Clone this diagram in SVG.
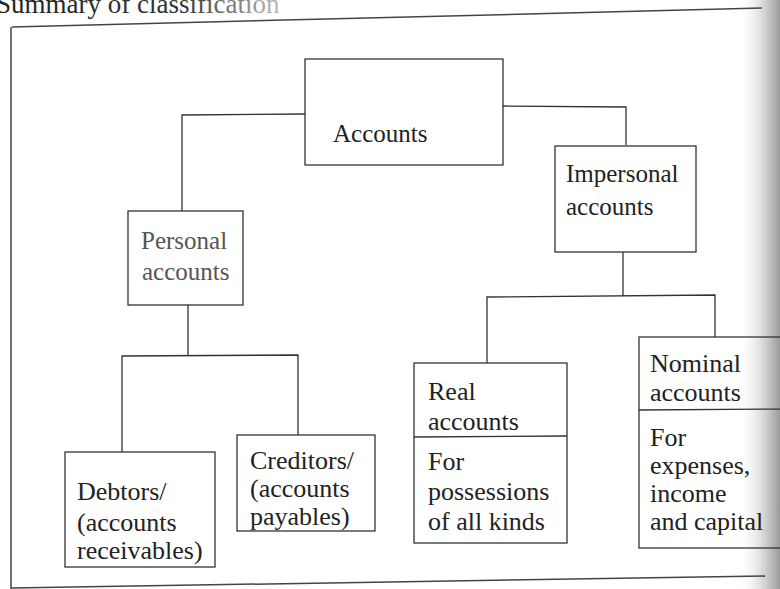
<svg xmlns="http://www.w3.org/2000/svg" width="780" height="589" viewBox="0 0 780 589">
  <defs>
    <linearGradient id="shadow" x1="0" y1="0" x2="1" y2="0">
      <stop offset="0" stop-color="#ffffff" stop-opacity="0"/>
      <stop offset="0.5" stop-color="#dcdcdc" stop-opacity="0.8"/>
      <stop offset="1" stop-color="#9a9a9a"/>
    </linearGradient>
    <linearGradient id="fade" x1="0" y1="0" x2="1" y2="0">
      <stop offset="0" stop-color="#222"/>
      <stop offset="0.65" stop-color="#333"/>
      <stop offset="1" stop-color="#bbb"/>
    </linearGradient>
    <style>
      .box { fill: #fff; stroke: #333; stroke-width: 1.3; }
      .line { fill: none; stroke: #333; stroke-width: 1.3; }
      .frame { fill: none; stroke: #444; stroke-width: 1.5; }
      .t { font-family: "Liberation Serif", "Times New Roman", serif; font-size: 25px; fill: #222; }
      .tl { font-family: "Liberation Serif", "Times New Roman", serif; font-size: 26px; fill: #222; }
    </style>
  </defs>
  <rect width="780" height="589" fill="#fff"/>
  <rect x="738" y="0" width="42" height="589" fill="url(#shadow)"/>

  <text x="-4" y="13" font-family="Liberation Serif, serif" font-size="27" fill="url(#fade)">Summary of classification</text>

  <g id="frame">
    <path class="frame" d="M12 27 L762 8"/>
    <path class="frame" d="M11 27 L11 589"/>
    <path class="frame" d="M11 588 L765 576"/>
  </g>

  <g id="connectors">
    <path class="line" d="M305 114 L182 115 L182 211"/>
    <path class="line" d="M503 106 L626 107 L626 145"/>
    <path class="line" d="M188 305 L188 355"/>
    <path class="line" d="M122 452 L122 356 L298 355 L298 435"/>
    <path class="line" d="M623 252 L623 296"/>
    <path class="line" d="M487 363 L487 297 L715 295 L715 337"/>
  </g>

  <g id="accounts">
    <rect class="box" x="305" y="59" width="198" height="106"/>
    <text class="t" x="333" y="142">Accounts</text>
  </g>

  <g id="personal">
    <rect class="box" x="128" y="211" width="115" height="94"/>
    <text class="t" x="141" y="249" style="fill:#555">Personal</text>
    <text class="t" x="142" y="280" style="fill:#555">accounts</text>
  </g>

  <g id="impersonal">
    <rect class="box" x="555" y="146" width="141" height="106"/>
    <text class="t" x="566" y="182">Impersonal</text>
    <text class="t" x="566" y="215">accounts</text>
  </g>

  <g id="debtors">
    <rect class="box" x="65" y="452" width="150" height="115"/>
    <text class="tl" x="77" y="500">Debtors/</text>
    <text class="tl" x="77" y="531">(accounts</text>
    <text class="tl" x="77" y="559">receivables)</text>
  </g>

  <g id="creditors">
    <rect class="box" x="237" y="435" width="138" height="96"/>
    <text class="tl" x="250" y="469">Creditors/</text>
    <text class="tl" x="250" y="497">(accounts</text>
    <text class="tl" x="250" y="525">payables)</text>
  </g>

  <g id="real">
    <rect class="box" x="414" y="363" width="153" height="180"/>
    <path class="line" d="M414 437 L567 436"/>
    <text class="tl" x="428" y="400">Real</text>
    <text class="tl" x="428" y="430">accounts</text>
    <text class="tl" x="428" y="470">For</text>
    <text class="tl" x="428" y="500">possessions</text>
    <text class="tl" x="428" y="530">of all kinds</text>
  </g>

  <g id="nominal">
    <rect x="639" y="337" width="160" height="211" fill="none" stroke="#333" stroke-width="1.3"/>
    <path class="line" d="M639 410 L790 409"/>
    <text class="tl" x="650" y="372">Nominal</text>
    <text class="tl" x="650" y="401">accounts</text>
    <text class="tl" x="650" y="446">For</text>
    <text class="tl" x="650" y="474">expenses,</text>
    <text class="tl" x="650" y="502">income</text>
    <text class="tl" x="650" y="530">and capital</text>
  </g>
</svg>
